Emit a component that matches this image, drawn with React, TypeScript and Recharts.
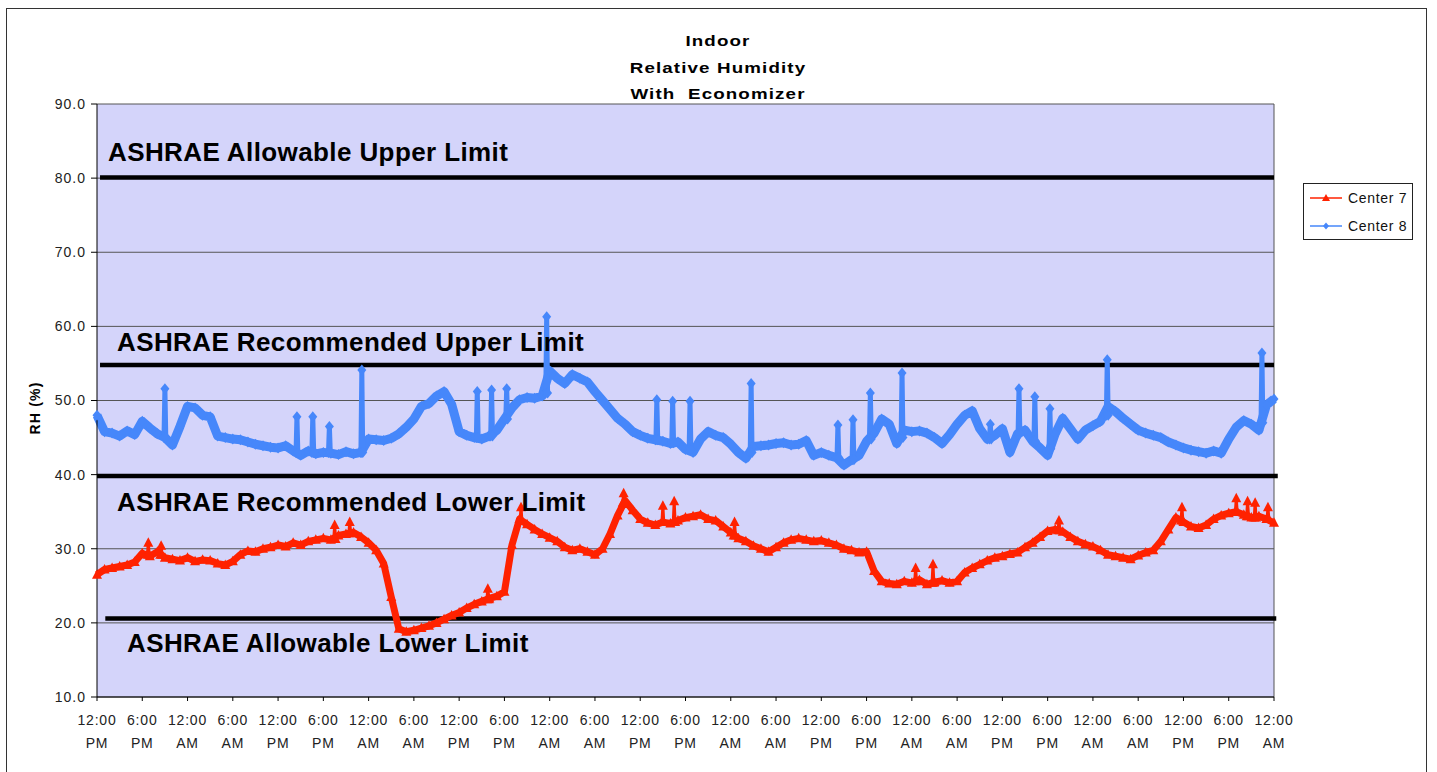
import React from 'react'
import {
  LineChart,
  Line,
  XAxis,
  YAxis,
  CartesianGrid,
  ReferenceLine,
} from 'recharts'

// one reading per hour, hour 0 = 12:00 PM on day one
const C7_RH = [
  26.5, 27.2, 27.4, 27.6, 27.8, 28.2, 29.4, 29.0, 29.6, 28.8,
  28.6, 28.4, 28.8, 28.3, 28.5, 28.4, 28.0, 27.8, 28.3, 29.2,
  29.7, 29.6, 30.0, 30.2, 30.5, 30.3, 30.8, 30.5, 31.0, 31.2,
  31.4, 31.2, 31.8, 32.0, 32.2, 31.6, 30.8, 29.8, 28.0, 23.5,
  19.2, 18.8, 19.0, 19.3, 19.6, 20.0, 20.5, 21.0, 21.4, 22.0,
  22.5, 22.9, 23.3, 23.6, 24.2, 30.5, 34.0, 33.3, 32.6, 32.0,
  31.5, 31.0, 30.2, 29.8, 30.0, 29.6, 29.2, 30.0, 32.0, 34.5,
  36.5, 35.2, 34.0, 33.5, 33.2, 33.6, 33.4, 33.8, 34.2, 34.4,
  34.6, 34.0, 33.8, 33.0, 32.2, 31.4, 31.0, 30.4, 30.0, 29.6,
  30.2, 30.8, 31.2, 31.4, 31.2, 31.0, 31.1, 30.8, 30.5, 30.0,
  29.8, 29.5, 29.6, 27.0, 25.6, 25.3, 25.2, 25.6, 25.4, 25.8,
  25.2, 25.5, 25.7, 25.4, 25.6, 26.8, 27.4, 27.9, 28.4, 28.8,
  29.0, 29.3, 29.5, 30.2, 30.8, 31.6, 32.4, 32.6, 32.3, 31.6,
  31.0, 30.6, 30.3, 29.8, 29.2, 29.0, 28.8, 28.6, 29.1, 29.5,
  29.8, 31.0, 32.6, 34.2, 33.6, 33.0, 32.8, 33.2, 34.0, 34.5,
  34.8, 35.0, 34.6, 34.2, 34.4, 34.0, 33.5,
]

const C8_RH = [
  48.0, 45.8, 45.6, 45.2, 45.9, 45.4, 47.2, 46.3, 45.5, 45.0,
  44.0, 46.5, 49.2, 49.0, 48.0, 47.8, 45.2, 45.0, 44.8, 44.7,
  44.4, 44.1, 43.9, 43.7, 43.6, 43.9, 43.2, 42.6, 43.2, 42.8,
  43.0, 42.9, 42.7, 43.1, 42.8, 43.0, 44.8, 44.7, 44.6, 44.9,
  45.5, 46.4, 47.5, 49.2, 49.6, 50.6, 51.2, 49.5, 45.8, 45.3,
  45.0, 44.8, 45.2, 46.0, 47.5, 49.0, 50.1, 50.4, 50.3, 50.6,
  54.0, 53.0, 52.3, 53.5, 53.0, 52.5, 51.2, 50.0, 48.8, 47.6,
  46.8, 45.8, 45.3, 44.9, 44.7, 44.5, 44.2, 44.4, 43.4, 43.0,
  44.8, 45.8, 45.3, 45.0, 44.1, 43.0, 42.2, 43.8, 43.9, 44.0,
  44.2, 44.3, 44.0, 44.1, 44.6, 42.6, 43.0, 42.6, 42.3, 41.3,
  42.0, 42.6, 44.5, 45.6, 47.5, 46.8, 44.2, 46.0, 45.8, 45.9,
  45.6, 45.0, 44.2, 45.4, 46.8, 48.0, 48.6, 46.2, 44.8, 45.3,
  46.2, 43.0, 45.5, 46.0, 44.5, 43.6, 42.6, 45.5, 47.6, 46.2,
  44.8, 46.0, 46.6, 47.2, 49.2, 48.5, 47.6, 46.8, 46.0, 45.6,
  45.3, 45.0, 44.4, 44.0, 43.6, 43.3, 43.1, 42.9, 43.2, 42.9,
  44.8, 46.4, 47.3, 46.8, 46.0, 49.4, 50.2,
]

// short-lived peaks between the hourly readings: [hour, base RH, peak RH]
const C7_SPIKES = [
  [6.8, 29.2, 30.8], [8.5, 29.2, 30.4], [31.5, 31.3, 33.2], [33.5, 32.1, 33.6], [51.8, 23.2, 24.6],
  [56.2, 33.8, 35.6], [69.8, 36.2, 37.5], [75.0, 33.6, 35.8], [76.5, 33.6, 36.4], [84.5, 31.8, 33.6],
  [108.5, 25.6, 27.4], [110.8, 25.4, 27.9], [127.5, 32.5, 33.8], [143.8, 33.8, 35.6], [151.0, 35.0, 36.8],
  [152.5, 34.4, 36.4], [153.5, 34.2, 36.2], [155.2, 34.0, 35.6],
]
const C8_SPIKES = [
  [9.0, 45.0, 51.6], [26.5, 43.0, 47.8], [28.6, 43.0, 47.8], [30.8, 43.0, 46.5], [35.1, 43.0, 54.1],
  [50.4, 45.0, 51.2], [52.3, 45.2, 51.4], [54.3, 47.5, 51.6], [59.6, 51.0, 61.3], [74.2, 44.7, 50.1],
  [76.3, 44.3, 49.9], [78.6, 43.4, 49.9], [86.7, 43.0, 52.3], [98.2, 42.3, 46.7], [100.2, 42.0, 47.4],
  [102.5, 44.8, 51.0], [106.7, 45.0, 53.7], [118.4, 44.8, 46.8], [122.2, 45.5, 51.6], [124.3, 44.5, 50.5],
  [126.3, 43.5, 48.9], [133.9, 48.0, 55.5], [154.4, 47.0, 56.4],
]

const X_TICKS = [0, 6, 12, 18, 24, 30, 36, 42, 48, 54, 60, 66, 72, 78, 84, 90, 96, 102, 108, 114, 120, 126, 132, 138, 144, 150, 156]
const TICK_LABELS = [
  '12:00 PM', '6:00 PM', '12:00 AM', '6:00 AM', '12:00 PM', '6:00 PM', '12:00 AM', '6:00 AM',
  '12:00 PM', '6:00 PM', '12:00 AM', '6:00 AM', '12:00 PM', '6:00 PM', '12:00 AM', '6:00 AM',
  '12:00 PM', '6:00 PM', '12:00 AM', '6:00 AM', '12:00 PM', '6:00 PM', '12:00 AM', '6:00 AM',
  '12:00 PM', '6:00 PM', '12:00 AM',
]
const Y_TICKS = [10, 20, 30, 40, 50, 60, 70, 80, 90]

// ASHRAE limits: [label, RH, from hour, to hour]
const LIMITS: [string, number, number, number][] = [
  ['ASHRAE Allowable Upper Limit', 80.1, 0.4, 156],
  ['ASHRAE Recommended Upper Limit', 54.8, 0.4, 156],
  ['ASHRAE Recommended Lower Limit', 39.8, 0, 156.5],
  ['ASHRAE Allowable Lower Limit', 20.6, 1.1, 156.3],
]

const RED = '#ff2200'
const BLUE = '#4687fa'
const FONT = 'Arial, "Liberation Sans", sans-serif'

const hourly = (values: number[]) => values.map((v, i) => ({ h: i, rh: v as number | null }))

// each spike becomes a thin pole; a null row splits it from the next one
function spikeRows(spikes: number[][]) {
  const rows: { h: number; rh: number | null }[] = []
  spikes.forEach(([h, base, peak]) => {
    rows.push({ h: h - 0.12, rh: base }, { h, rh: peak }, { h: h + 0.12, rh: base }, { h: h + 0.2, rh: null })
  })
  return rows
}

const c7Data = hourly(C7_RH)
const c8Data = hourly(C8_RH)
const c7Spikes = spikeRows(C7_SPIKES)
const c8Spikes = spikeRows(C8_SPIKES)

function Triangle(props: any) {
  const { cx, cy, index, value } = props
  if (cx == null || cy == null || value == null) return <g key={index} />
  return <path key={index} d={`M${cx},${cy - 5.5}L${cx + 5},${cy + 4}L${cx - 5},${cy + 4}Z`} fill={RED} />
}

function Diamond(props: any) {
  const { cx, cy, index, value } = props
  if (cx == null || cy == null || value == null) return <g key={index} />
  return <path key={index} d={`M${cx},${cy - 5.5}L${cx + 4.5},${cy}L${cx},${cy + 5.5}L${cx - 4.5},${cy}Z`} fill={BLUE} />
}

function XTick(props: any) {
  const { x, y, payload } = props
  const idx = X_TICKS.indexOf(payload.value)
  const [time, ampm] = (TICK_LABELS[idx] ?? '').split(' ')
  return (
    <text x={x} y={y} textAnchor="middle" fontSize={14} fill="#222" fontFamily={FONT} style={{ letterSpacing: 0.8 }}>
      <tspan x={x} dy={22}>{time}</tspan>
      <tspan x={x} dy={23}>{ampm}</tspan>
    </text>
  )
}

function LegendBox() {
  const row = (label: string, color: string, marker: React.ReactNode) => (
    <div style={{ display: 'flex', alignItems: 'center', height: 28 }}>
      <svg width={38} height={12}>
        <line x1={4} y1={6} x2={36} y2={6} stroke={color} strokeWidth={1.5} />
        {marker}
      </svg>
      <span style={{ fontSize: 14, color: '#111', marginLeft: 4, letterSpacing: 0.7 }}>{label}</span>
    </div>
  )
  return (
    <div style={{ border: '1px solid #222', background: '#fff', width: 110, height: 57, padding: '0 0 0 2px', fontFamily: FONT, boxSizing: 'border-box' }}>
      {row('Center 7', RED, <path d="M20,2L24,9L16,9Z" fill={RED} />)}
      {row('Center 8', BLUE, <path d="M20,2.5L23,6L20,9.5L17,6Z" fill={BLUE} />)}
    </div>
  )
}

const labelPos = [
  { left: 108, top: 137 },
  { left: 117, top: 327 },
  { left: 117, top: 487 },
  { left: 127, top: 628 },
]

export default function App() {
  return (
    <div style={{ position: 'absolute', left: 0, top: 0, width: 1437, height: 772, background: '#fff', fontFamily: FONT, overflow: 'hidden' }}>
      <div style={{ position: 'absolute', left: 6, top: 8, width: 1419, height: 780, border: '1px solid #333' }} />
      <div style={{ position: 'absolute', left: 0, top: 0 }}>
        <LineChart width={1437} height={772} margin={{ top: 104, right: 163, bottom: 0, left: 0 }}>
          <CartesianGrid vertical={false} stroke="#555" strokeWidth={1} fill="#d4d4fa" fillOpacity={1} />
          <XAxis
            type="number"
            dataKey="h"
            domain={[0, 156]}
            ticks={X_TICKS}
            interval={0}
            height={75}
            tick={<XTick />}
            tickSize={4}
            stroke="#000"
          />
          <YAxis
            type="number"
            domain={[10, 90]}
            ticks={Y_TICKS}
            width={97}
            tickSize={6}
            tickMargin={5}
            tickFormatter={(v: number) => v.toFixed(1)}
            tick={{ fontSize: 14, fill: '#222', fontFamily: FONT, style: { letterSpacing: 1 } }}
            stroke="#000"
          />
          <ReferenceLine x={156} stroke="#555" />
          {LIMITS.map(([name, v, x1, x2]) => (
            <ReferenceLine
              key={name}
              segment={[{ x: x1, y: v }, { x: x2, y: v }]}
              stroke="#000"
              strokeWidth={4.5}
              ifOverflow="visible"
            />
          ))}
          <Line
            data={c7Data}
            dataKey="rh"
            name="Center 7"
            type="linear"
            stroke={RED}
            strokeWidth={7}
            strokeLinejoin="round"
            dot={Triangle}
            isAnimationActive={false}
          />
          <Line
            data={c7Spikes}
            dataKey="rh"
            name="Center 7 peaks"
            type="linear"
            stroke={RED}
            strokeWidth={3}
            dot={Triangle}
            legendType="none"
            isAnimationActive={false}
          />
          <Line
            data={c8Data}
            dataKey="rh"
            name="Center 8"
            type="linear"
            stroke={BLUE}
            strokeWidth={9}
            strokeLinejoin="round"
            dot={Diamond}
            isAnimationActive={false}
          />
          <Line
            data={c8Spikes}
            dataKey="rh"
            name="Center 8 peaks"
            type="linear"
            stroke={BLUE}
            strokeWidth={5}
            dot={Diamond}
            legendType="none"
            isAnimationActive={false}
          />
        </LineChart>
      </div>
      <div style={{ position: 'absolute', left: 1303, top: 183 }}>
        <LegendBox />
      </div>
      <div style={{ position: 'absolute', left: 35, top: 408, transform: 'translate(-50%, -50%) rotate(-90deg)', fontSize: 14, fontWeight: 'bold', letterSpacing: 1.2, whiteSpace: 'nowrap', color: '#000' }}>
        RH (%)
      </div>
      <div style={{ position: 'absolute', left: 518, top: 28, width: 400, textAlign: 'center', fontWeight: 'bold', fontSize: 15, lineHeight: '26.5px', letterSpacing: 0.9, color: '#000', transform: 'scaleX(1.25)', transformOrigin: 'center' }}>
        <div>Indoor</div>
        <div>Relative Humidity</div>
        <div>With&nbsp; Economizer</div>
      </div>
      {LIMITS.map(([name], i) => (
        <div
          key={name}
          style={{ position: 'absolute', left: labelPos[i].left, top: labelPos[i].top, fontSize: 26, fontWeight: 'bold', color: '#000', whiteSpace: 'nowrap', lineHeight: '30px', letterSpacing: 0.4 }}
        >
          {name}
        </div>
      ))}
    </div>
  )
}
